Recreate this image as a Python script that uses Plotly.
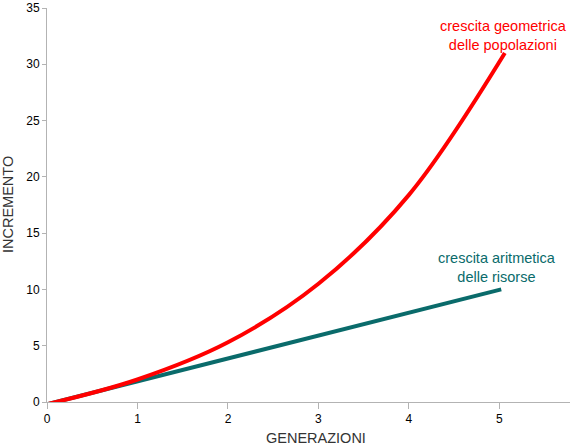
import plotly.graph_objects as go

# Data
generazioni_geo = [0, 1, 2, 3, 4, 5.06]
popolazioni = [-0.2, 2.0, 5.3, 10.5, 18.4, 31.0]

generazioni_ari = [0, 5.02]
risorse = [-0.2, 10.0]

x_ticks = [0, 1, 2, 3, 4, 5]
y_ticks = [0, 5, 10, 15, 20, 25, 30, 35]

label_geo = "crescita geometrica<br>delle popolazioni"
label_ari = "crescita aritmetica<br>delle risorse"
x_title = "GENERAZIONI"
y_title = "INCREMENTO"

RED = "#ff0000"
TEAL = "#0a6b6b"
FONT = "Liberation Sans"

fig = go.Figure()
fig.add_trace(go.Scatter(x=generazioni_ari, y=risorse, mode="lines",
                         line=dict(color=TEAL, width=4), hoverinfo="skip"))
fig.add_trace(go.Scatter(x=generazioni_geo, y=popolazioni, mode="lines",
                         line=dict(color=RED, width=4, shape="spline", smoothing=1),
                         hoverinfo="skip"))

fig.add_annotation(x=5.04, y=32.6, text=label_geo, showarrow=False,
                   xanchor="center", yanchor="middle", align="center",
                   font=dict(family=FONT, size=14.5, color=RED))
fig.add_annotation(x=4.97, y=11.94, text=label_ari, showarrow=False,
                   xanchor="center", yanchor="middle", align="center",
                   font=dict(family=FONT, size=14.5, color=TEAL))

# axis titles
fig.add_annotation(x=0.514, y=0, xref="paper", yref="paper", yshift=-35.5,
                   text=x_title, showarrow=False, xanchor="center", yanchor="middle",
                   font=dict(family=FONT, size=14.5, color="#333"))
fig.add_annotation(x=0, y=0.5, xref="paper", yref="paper", xshift=-39,
                   text=y_title, showarrow=False, xanchor="center", yanchor="middle",
                   textangle=-90,
                   font=dict(family=FONT, size=14.5, color="#333"))

fig.update_layout(
    width=570, height=445,
    margin=dict(l=47, r=0, t=8, b=43),
    paper_bgcolor="white", plot_bgcolor="white",
    showlegend=False,
    font=dict(family=FONT, color="#000"),
    xaxis=dict(range=[0, 5.78], tickvals=x_ticks, ticktext=[str(v) for v in x_ticks],
               automargin=False, ticklabeloverflow="allow",
               showgrid=False, zeroline=False, showline=True, linecolor="#b3b3b3",
               linewidth=1, ticks="outside", ticklen=6, tickcolor="#b3b3b3",
               tickfont=dict(family=FONT, size=12, color="#000")),
    yaxis=dict(range=[0, 35], tickvals=y_ticks, ticktext=[str(v) for v in y_ticks],
               automargin=False, ticklabeloverflow="allow",
               showgrid=False, zeroline=False, showline=True, linecolor="#b3b3b3",
               linewidth=1, ticks="outside", ticklen=4, tickcolor="#b3b3b3",
               tickfont=dict(family=FONT, size=12, color="#000")),
)

fig.write_html("out.html", config={"displayModeBar": False},
               post_script="document.body.style.margin='0';document.body.style.overflow='hidden';")
